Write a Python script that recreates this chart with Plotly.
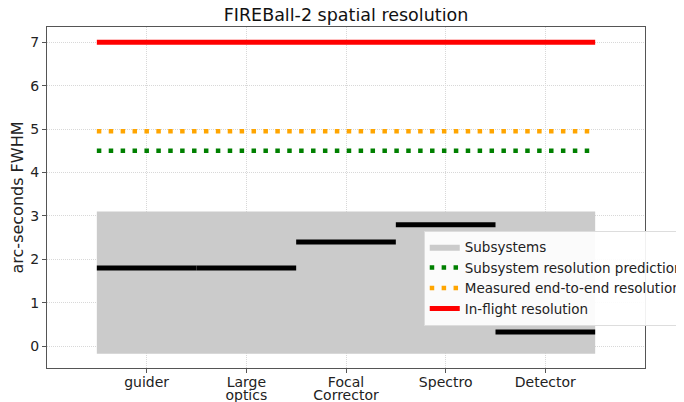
import plotly.graph_objects as go

categories = ["guider", "Large", "Focal", "Spectro", "Detector"]
categories_line2 = ["", "optics", "Corrector", "", ""]
subsystem_fwhm = [1.8, 1.8, 2.4, 2.8, 0.33]
subsystem_span = [-0.17, 3.1]
prediction = 4.5
measured = 4.95
inflight = 7.0

n = len(categories)
x0, x1 = -0.5, n - 0.5

fig = go.Figure()

fig.add_trace(go.Scatter(
    x=[x0, x1, x1, x0, x0],
    y=[subsystem_span[0], subsystem_span[0], subsystem_span[1], subsystem_span[1], subsystem_span[0]],
    fill="toself", fillcolor="#cbcbcb", line=dict(width=0, color="#cbcbcb"),
    mode="lines", name="Subsystems", hoverinfo="skip"))

for i, v in enumerate(subsystem_fwhm):
    fig.add_trace(go.Scatter(x=[i - 0.5, i + 0.5], y=[v, v], mode="lines",
                             line=dict(color="black", width=5), showlegend=False))

fig.add_trace(go.Scatter(x=[x0, x1], y=[prediction, prediction], mode="lines",
                         line=dict(color="green", width=4.5, dash="4.5px,7.4px"),
                         name="Subsystem resolution prediction"))
fig.add_trace(go.Scatter(x=[x0, x1], y=[measured, measured], mode="lines",
                         line=dict(color="orange", width=4.5, dash="4.5px,7.4px"),
                         name="Measured end-to-end resolution"))
fig.add_trace(go.Scatter(x=[x0, x1], y=[inflight, inflight], mode="lines",
                         line=dict(color="red", width=5),
                         name="In-flight resolution"))
# invisible trace to carry the second line of the category labels
fig.add_trace(go.Scatter(x=[None], y=[None], xaxis="x2", yaxis="y",
                         showlegend=False, hoverinfo="skip"))

fig.update_layout(
    width=676, height=394,
    margin=dict(l=39, r=39, t=19, b=34, autoexpand=False),
    paper_bgcolor="white", plot_bgcolor="white",
    font=dict(family="DejaVu Sans", color="#222", size=14),
    title=dict(text="FIREBall-2 spatial resolution", x=0.5, xanchor="center",
               y=0.982, yanchor="middle", font=dict(size=17.5, color="#111")),
    showlegend=True,
    legend=dict(x=0.630, xanchor="left", y=0.403, yanchor="top",
                bgcolor="rgba(255,255,255,0.92)", bordercolor="#ddd", borderwidth=1,
                font=dict(size=13.5, color="#222"), tracegroupgap=0, itemwidth=30),
    xaxis=dict(range=[-1, n], tickvals=list(range(n)), ticktext=categories,
               showline=True, mirror=True, linecolor="#555", linewidth=1.2,
               showgrid=True, gridcolor="#d8d8d8", griddash="1px,1px", gridwidth=1,
               ticks="outside", ticklen=4, tickcolor="#555", zeroline=False,
               ticklabelstandoff=-3, automargin=False, tickfont=dict(size=14)),
    xaxis2=dict(overlaying="x", anchor="y", side="bottom", range=[-1, n],
                tickvals=list(range(n)), ticktext=categories_line2,
                ticks="", showgrid=False, showline=False, zeroline=False,
                ticklabelstandoff=17, automargin=False, tickfont=dict(size=14)),
    yaxis=dict(range=[-0.5, 7.35], tickvals=list(range(8)),
               showline=True, mirror=True, linecolor="#555", linewidth=1.2,
               showgrid=True, gridcolor="#d8d8d8", griddash="1px,1px", gridwidth=1,
               ticks="outside", ticklen=4, tickcolor="#555", zeroline=False,
               automargin=False,
               title=dict(text="arc-seconds FWHM", font=dict(size=16), standoff=10),
               tickfont=dict(size=14)),
)

fig.write_html("out.html")
